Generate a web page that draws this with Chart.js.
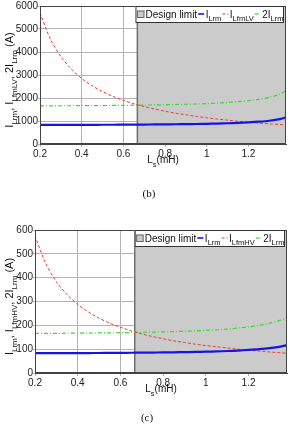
<!DOCTYPE html>
<html>
<head>
<meta charset="utf-8">
<script src="https://cdn.jsdelivr.net/npm/chart.js@4.4.1/dist/chart.umd.min.js"></script>
<style>
  body { margin: 0; background: #fff; width: 291px; height: 428px; overflow: hidden; }
  .panel { position: absolute; left: 0; width: 291px; height: 214px; }
</style>
</head>
<body>
<div class="panel" style="top:0"><canvas id="chartB"></canvas></div>
<div class="panel" style="top:214px"><canvas id="chartC"></canvas></div>
<script>
// shared x axis (Ls in mH)
const lsValues = [0.2, 0.25, 0.3, 0.35, 0.4, 0.45, 0.5, 0.55, 0.6, 0.65, 0.7, 0.75, 0.8,
                  0.85, 0.9, 0.95, 1.0, 1.05, 1.1, 1.15, 1.2, 1.25, 1.3, 1.35, 1.38];
const xTicks = [0.2, 0.4, 0.6, 0.8, 1, 1.2];
const lsMin = 0.2;
const lsMax = 1.38;
const designLimit = 0.667;

// panel (b)
const iLrmB = [830, 830, 831, 832, 833, 835, 836, 838, 840, 843, 846, 850, 854,
               859, 864, 870, 878, 888, 902, 920, 943, 972, 1012, 1080, 1160];
const iLfmLV = [5700, 4560, 3800, 3260, 2850, 2530, 2280, 2070, 1900, 1750, 1630, 1520, 1425,
                1340, 1270, 1200, 1140, 1085, 1035, 990, 950, 910, 875, 845, 825];
const twoILrmB = [1660, 1660, 1662, 1664, 1666, 1670, 1672, 1676, 1680, 1686, 1692, 1700, 1708,
                  1718, 1728, 1740, 1756, 1776, 1804, 1840, 1886, 1944, 2024, 2160, 2320];
const yTicksB = [0, 1000, 2000, 3000, 4000, 5000, 6000];

// panel (c)
const iLrmC = [83, 83, 83.2, 83.4, 83.6, 83.8, 84, 84.3, 84.6, 85, 85.4, 85.8, 86.3,
               86.9, 87.6, 88.4, 89.4, 90.6, 92.2, 94.2, 96.8, 100, 104.5, 111, 117];
const iLfmHV = [575, 460, 383, 329, 288, 256, 230, 209, 192, 177, 164, 153, 144,
                135, 128, 121, 115, 110, 105, 100, 96, 92, 88, 85, 83];
const twoILrmC = [166, 166, 166.4, 166.8, 167.2, 167.6, 168, 168.6, 169.2, 170, 170.8, 171.6, 172.6,
                  173.8, 175.2, 176.8, 178.8, 181.2, 184.4, 188.4, 193.6, 200, 209, 222, 234];
const yTicksC = [0, 100, 200, 300, 400, 500, 600];

const SANS = '"Liberation Sans", Arial, sans-serif';

// "I_{Lrm}" -> [{t:'I'},{t:'Lrm',sub:true}]
function parseRich(str) {
  const out = [];
  const re = /_\{([^}]*)\}/g;
  let last = 0, m;
  while ((m = re.exec(str))) {
    if (m.index > last) out.push({ t: str.slice(last, m.index), sub: false });
    out.push({ t: m[1], sub: true });
    last = re.lastIndex;
  }
  if (last < str.length) out.push({ t: str.slice(last), sub: false });
  return out;
}

function richWidth(ctx, segs, size, subSize) {
  let w = 0;
  segs.forEach(s => {
    ctx.font = (s.sub ? subSize : size) + 'px ' + SANS;
    w += ctx.measureText(s.t).width;
  });
  return w;
}

function drawRich(ctx, segs, x, y, size, subSize, subDrop) {
  ctx.textAlign = 'left';
  ctx.textBaseline = 'alphabetic';
  segs.forEach(s => {
    ctx.font = (s.sub ? subSize : size) + 'px ' + SANS;
    ctx.fillText(s.t, x, s.sub ? y + subDrop : y);
    x += ctx.measureText(s.t).width;
  });
  return x;
}

const framePlugin = {
  id: 'frame',
  beforeDatasetsDraw(chart) {
    const { ctx, chartArea: a, scales: { x } } = chart;
    const x0 = x.getPixelForValue(designLimit);
    const x1 = x.getPixelForValue(lsMax);
    ctx.save();
    ctx.fillStyle = '#cbcbcb';
    ctx.fillRect(x0, a.top, x1 - x0, a.bottom - a.top);
    ctx.strokeStyle = '#6f6f6f';
    ctx.lineWidth = 1.5;
    ctx.beginPath();
    ctx.moveTo(x0, a.top);
    ctx.lineTo(x0, a.bottom);
    ctx.stroke();
    ctx.restore();
  },
  afterDatasetsDraw(chart) {
    const { ctx, chartArea: a } = chart;
    ctx.save();
    // plot box
    ctx.strokeStyle = '#444';
    ctx.lineWidth = 1;
    ctx.strokeRect(a.left + 0.5, a.top + 0.5, a.right - a.left - 1, a.bottom - a.top - 1);

    // legend
    const size = 10, sub = 7.5, drop = 3.5;
    const items = chart.data.datasets.map(ds => ({ ds, segs: parseRich(ds.label) }));
    let w = 1 + 7 + 1.5;
    ctx.font = size + 'px ' + SANS;
    w += ctx.measureText('Design limit').width + 1;
    items.forEach(it => { w += 6 + 1.5 + richWidth(ctx, it.segs, size, sub) + 1; });
    const h = 17;
    const bx = a.right - 2 - w;
    const by = a.top;
    ctx.fillStyle = '#fff';
    ctx.fillRect(bx, by, w, h);
    ctx.strokeStyle = '#333';
    ctx.strokeRect(bx + 0.5, by + 0.5, w - 1, h - 1);
    let cx = bx + 1.5;
    const base = by + 11.5;
    ctx.fillStyle = '#cbcbcb';
    ctx.fillRect(cx, by + 4.5, 7, 7);
    ctx.strokeStyle = '#666';
    ctx.strokeRect(cx + 0.5, by + 5, 6.5, 6.5);
    cx += 8.5;
    ctx.fillStyle = '#111';
    ctx.font = size + 'px ' + SANS;
    ctx.fillText('Design limit', cx, base);
    cx += ctx.measureText('Design limit').width + 1;
    items.forEach(it => {
      ctx.strokeStyle = it.ds.borderColor;
      ctx.lineWidth = Math.min(it.ds.borderWidth, 1.6);
      ctx.setLineDash(it.ds.borderDash || []);
      ctx.beginPath();
      ctx.moveTo(cx, by + 8);
      ctx.lineTo(cx + 6, by + 8);
      ctx.stroke();
      ctx.setLineDash([]);
      cx += 7.5;
      ctx.fillStyle = '#111';
      cx = drawRich(ctx, it.segs, cx, base, size, sub, drop) + 1;
    });
    ctx.restore();
  },
  afterDraw(chart) {
    const { ctx, chartArea: a } = chart;
    const o = chart.options.plugins.frame;
    ctx.save();
    ctx.fillStyle = '#111';
    // x title
    const xs = parseRich(o.xTitle);
    const xw = richWidth(ctx, xs, 10, 7.5);
    drawRich(ctx, xs, (a.left + a.right) / 2 - xw / 2, a.bottom + 19, 10, 7.5, 3.5);
    // y title
    const ys = parseRich(o.yTitle);
    const yw = richWidth(ctx, ys, 11, 8);
    ctx.translate(13, (a.top + a.bottom) / 2 + 5);
    ctx.rotate(-Math.PI / 2);
    drawRich(ctx, ys, -yw / 2, 0, 11, 8, 3.5);
    ctx.setTransform(1, 0, 0, 1, 0, 0);
    // caption
    ctx.font = '11px "Liberation Serif", "Times New Roman", serif';
    ctx.textAlign = 'center';
    ctx.fillText(o.caption, (a.left + a.right) / 2 - 14, o.captionY);
    ctx.restore();
  }
};

function makeChart(id, cfg) {
  const toPts = arr => arr.map((v, i) => ({ x: lsValues[i], y: v }));
  return new Chart(document.getElementById(id), {
    type: 'line',
    data: {
      datasets: [
        { label: 'I_{Lrm}', data: toPts(cfg.blue), borderColor: '#1414e6', borderWidth: 2.2,
          pointRadius: 0, tension: 0.3 },
        { label: cfg.redLabel, data: toPts(cfg.red), borderColor: '#ee3a3a', borderWidth: 1,
          borderDash: [3, 2], pointRadius: 0, tension: 0.3 },
        { label: '2I_{Lrm}', data: toPts(cfg.green), borderColor: '#33dd33', borderWidth: 1.2,
          borderDash: [4, 2, 1, 2], pointRadius: 0, tension: 0.3 }
      ]
    },
    options: {
      responsive: true,
      maintainAspectRatio: false,
      animation: false,
      layout: { padding: { top: cfg.area.top, right: 291 - cfg.area.right, left: 0, bottom: 0 } },
      plugins: {
        legend: { display: false },
        tooltip: { enabled: false },
        frame: { xTitle: 'L_{s}(mH)', yTitle: cfg.yTitle, caption: cfg.caption, captionY: cfg.captionY }
      },
      scales: {
        x: {
          type: 'linear', min: lsMin, max: lsMax,
          afterBuildTicks: s => { s.ticks = xTicks.map(v => ({ value: v })); },
          afterFit: s => { s.height = 214 - cfg.area.bottom - cfg.area.top + cfg.area.top; },
          grid: { color: '#b4b4b4', tickLength: 3, lineWidth: 1 },
          border: { color: '#444' },
          ticks: { color: '#222', padding: 1, font: { family: SANS, size: 10 }, callback: v => String(v) }
        },
        y: {
          min: 0, max: cfg.yTicks[cfg.yTicks.length - 1],
          afterBuildTicks: s => { s.ticks = cfg.yTicks.map(v => ({ value: v })); },
          afterFit: s => { s.width = cfg.area.left; },
          grid: { color: '#b4b4b4', tickLength: 2, lineWidth: 1 },
          border: { color: '#444' },
          ticks: { color: '#222', padding: 0, font: { family: SANS, size: 10 }, callback: v => String(v) }
        }
      }
    },
    plugins: [framePlugin]
  });
}

makeChart('chartB', {
  blue: iLrmB, red: iLfmLV, green: twoILrmB, redLabel: 'I_{LfmLV}', yTicks: yTicksB,
  yTitle: 'I_{Lrm}, I_{LfmLV}, 2I_{Lrm} (A)', caption: '(b)', captionY: 197,
  area: { left: 40, top: 5, right: 286, bottom: 144 }
});

makeChart('chartC', {
  blue: iLrmC, red: iLfmHV, green: twoILrmC, redLabel: 'I_{LfmHV}', yTicks: yTicksC,
  yTitle: 'I_{Lrm}, I_{LfmHV}, 2I_{Lrm} (A)', caption: '(c)', captionY: 207,
  area: { left: 35, top: 16, right: 287, bottom: 159 }
});
</script>
</body>
</html>
